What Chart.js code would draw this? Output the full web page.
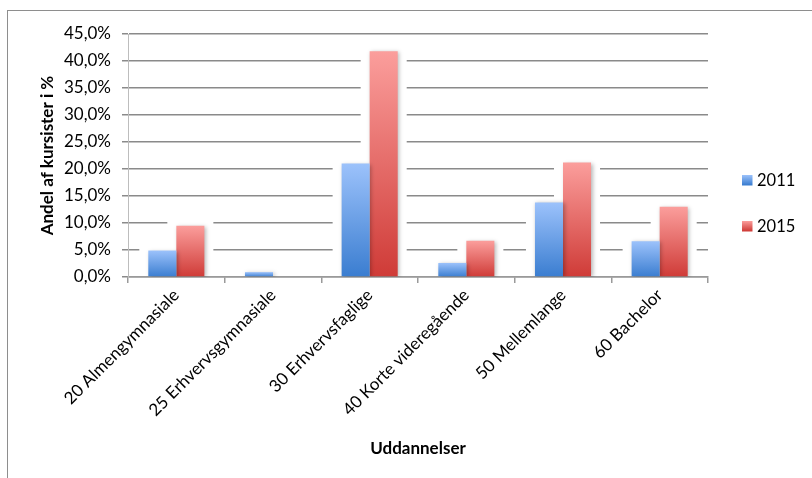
<!DOCTYPE html>
<html>
<head>
<meta charset="utf-8">
<script src="https://cdn.jsdelivr.net/npm/chart.js@4"></script>
<style>
  html, body { margin: 0; padding: 0; background: #fff; overflow: hidden; }
  #frame {
    position: absolute; left: 7px; top: 10px; width: 900px; height: 600px;
    border-left: 1px solid #8e8e8e; border-top: 1px solid #8e8e8e;
  }
  #wrap { position: absolute; left: 0; top: 0; width: 812px; height: 478px; }
</style>
</head>
<body>
<div id="frame"></div>
<div id="wrap"><canvas id="myChart"></canvas></div>
<script>
const categories = [
  "20 Almengymnasiale",
  "25 Erhvervsgymnasiale",
  "30 Erhvervsfaglige",
  "40 Korte videregående",
  "50 Mellemlange",
  "60 Bachelor",
];
const seriesLabels = ["2011", "2015"];
const values2011 = [4.9, 0.9, 21.0, 2.6, 13.8, 6.6];
const values2015 = [9.5, 0.0, 41.8, 6.7, 21.2, 13.0];
const yTickLabels = ["0,0%", "5,0%", "10,0%", "15,0%", "20,0%", "25,0%", "30,0%", "35,0%", "40,0%", "45,0%"];

const blue = { light: "#9cc2fb", dark: "#3a7dd0" };
const red = { light: "#fb9e9c", dark: "#cf3b37" };

Chart.defaults.font.family = "Lato, 'Open Sans', sans-serif";
Chart.defaults.color = "#000";

// vertical gradient from the top of each bar down to its base
function barFill(colors) {
  return (context) => {
    const chart = context.chart;
    const yScale = chart.scales.y;
    if (context.type !== "data" || !yScale) return colors.dark;
    const top = yScale.getPixelForValue(context.raw);
    const base = yScale.getPixelForValue(0);
    if (!isFinite(top) || !isFinite(base) || base - top < 1) return colors.dark;
    const g = chart.ctx.createLinearGradient(0, top, 0, base);
    g.addColorStop(0, colors.light);
    g.addColorStop(1, colors.dark);
    return g;
  };
}

// white halo round the bars (hides the gridlines next to them) plus a soft shadow
const barGlow = {
  id: "barGlow",
  beforeDatasetsDraw(chart) {
    const c = chart.ctx;
    c.save();
    c.fillStyle = "#fff";
    chart.data.datasets.forEach((d, i) => {
      chart.getDatasetMeta(i).data.forEach((bar) => {
        const { x, y, base, width } = bar.getProps(["x", "y", "base", "width"], true);
        if (base - y < 1) return;
        c.fillRect(x - width / 2 - 9, y - 5, width + 18, base - y + 4);
      });
    });
    c.restore();
    c.save();
    c.shadowColor = "rgba(0,0,0,0.28)";
    c.shadowBlur = 4;
    c.shadowOffsetX = 1.5;
    c.shadowOffsetY = 1;
  },
  afterDatasetsDraw(chart) {
    chart.ctx.restore();
  },
};

const sideLegend = {
  id: "sideLegend",
  afterDraw(chart) {
    const c = chart.ctx;
    const area = chart.chartArea;
    const palette = [blue, red];
    c.save();
    c.font = "16.5px Lato, 'Open Sans', sans-serif";
    c.textBaseline = "middle";
    c.fillStyle = "#000";
    chart.data.datasets.forEach((d, i) => {
      const yc = area.top + 146 + i * 46;
      const x = area.right + 34;
      const g = c.createLinearGradient(0, yc - 5, 0, yc + 5);
      g.addColorStop(0, palette[i].light);
      g.addColorStop(1, palette[i].dark);
      c.fillStyle = g;
      c.fillRect(x, yc - 5, 10.5, 10.5);
      c.fillStyle = "#000";
      c.fillText(d.label, x + 15, yc + 1);
    });
    c.restore();
  },
};

new Chart(document.getElementById("myChart"), {
  type: "bar",
  data: {
    labels: categories,
    datasets: [
      {
        label: seriesLabels[0],
        data: values2011,
        backgroundColor: barFill(blue),
        borderWidth: 0,
        categoryPercentage: 0.58,
        barPercentage: 1,
      },
      {
        label: seriesLabels[1],
        data: values2015,
        backgroundColor: barFill(red),
        borderWidth: 0,
        categoryPercentage: 0.58,
        barPercentage: 1,
      },
    ],
  },
  options: {
    responsive: true,
    maintainAspectRatio: false,
    animation: false,
    layout: { padding: { left: 8, top: 34, right: 104, bottom: 0 } },
    plugins: {
      legend: { display: false },
      tooltip: { enabled: false },
    },
    scales: {
      x: {
        grid: {
          display: true,
          drawOnChartArea: false,
          drawTicks: true,
          tickLength: 6,
          color: "#9a9a9a",
          lineWidth: 1.5,
          offset: true,
        },
        border: { color: "#9a9a9a", width: 1.5 },
        ticks: {
          minRotation: 45,
          maxRotation: 45,
          autoSkip: false,
          padding: 2,
          font: { size: 17 },
        },
        title: {
          display: true,
          text: "Uddannelser",
          font: { size: 17, weight: "bold" },
          padding: { top: 0, bottom: 19 },
        },
        afterFit: (scale) => {
          scale.height = 201;
        },
      },
      y: {
        min: 0,
        max: 45,
        ticks: {
          stepSize: 5,
          padding: 11,
          font: { size: 17 },
          callback: (value, index) => yTickLabels[index],
        },
        grid: {
          color: "#8a8a8a",
          lineWidth: 1.5,
          tickLength: 6,
          drawTicks: true,
        },
        border: { color: "#bdbdbd", width: 1 },
        title: {
          display: true,
          text: "Andel af kursister i %",
          font: { size: 17, weight: "bold" },
          padding: { top: 29, bottom: 0 },
        },
        afterFit: (scale) => {
          scale.width = 120;
        },
      },
    },
  },
  plugins: [barGlow, sideLegend],
});
</script>
</body>
</html>
